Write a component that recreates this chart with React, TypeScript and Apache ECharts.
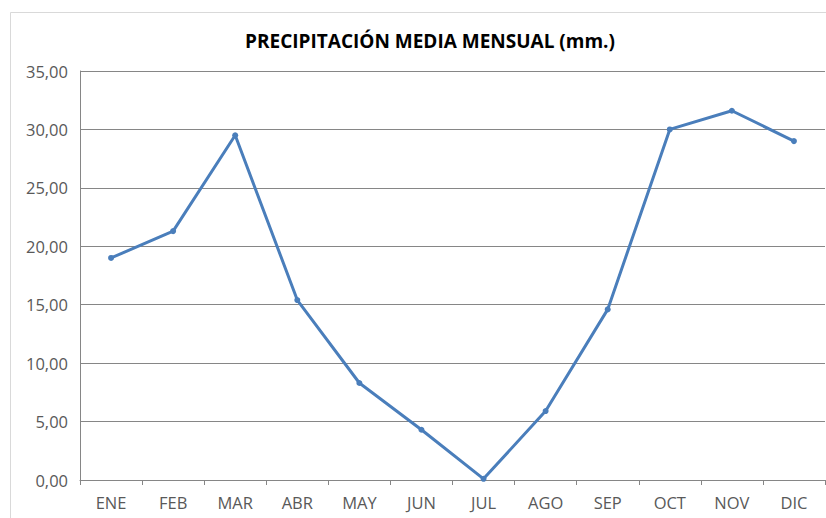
import React, { useEffect, useRef } from "react";
import * as echarts from "echarts";

const titleText = "PRECIPITACIÓN MEDIA MENSUAL (mm.)";
const months = ["ENE", "FEB", "MAR", "ABR", "MAY", "JUN", "JUL", "AGO", "SEP", "OCT", "NOV", "DIC"];
const precipitation = [19.0, 21.3, 29.5, 15.4, 8.3, 4.3, 0.1, 5.9, 14.6, 30.0, 31.6, 29.0];
const yMin = 0;
const yMax = 35;
const yStep = 5;

export default function App() {
  const ref = useRef<HTMLDivElement>(null);
  useEffect(() => {
    if (!ref.current) return;
    const chart = echarts.init(ref.current, undefined, { renderer: "svg" });
    const font = "'Open Sans', 'Liberation Sans', sans-serif";
    chart.setOption({
      animation: false,
      backgroundColor: "#ffffff",
      title: {
        text: titleText,
        left: 425,
        textAlign: "center",
        top: 26,
        textStyle: { fontFamily: font, fontSize: 19, fontWeight: "bold", color: "#000000" },
      },
      graphic: [
        {
          type: "rect",
          shape: { x: 10.5, y: 12.5, width: 840, height: 540 },
          style: { fill: "none", stroke: "#d9d9d9", lineWidth: 1 },
          silent: true,
        },
      ],
      grid: { left: 80, right: 1, top: 71, bottom: 38, containLabel: false },
      xAxis: {
        type: "category",
        data: months,
        boundaryGap: true,
        axisLine: { show: true, lineStyle: { color: "#868686", width: 1 } },
        axisTick: { show: true, length: 5, lineStyle: { color: "#868686" } },
        axisLabel: { fontFamily: font, fontSize: 16.5, color: "#595959", margin: 14 },
      },
      yAxis: {
        type: "value",
        min: yMin,
        max: yMax,
        interval: yStep,
        axisLine: { show: true, lineStyle: { color: "#868686", width: 1 } },
        axisTick: { show: false },
        splitLine: { show: true, lineStyle: { color: "#868686", width: 1 } },
        axisLabel: {
          fontFamily: font,
          fontSize: 16.5,
          color: "#595959",
          margin: 12,
          formatter: (v: number) => v.toFixed(2).replace(".", ","),
        },
      },
      series: [
        {
          type: "line",
          data: precipitation,
          symbol: "circle",
          symbolSize: 6,
          lineStyle: { color: "#4a7ebb", width: 3 },
          itemStyle: { color: "#4a7ebb" },
        },
      ],
    });
    return () => chart.dispose();
  }, []);
  return (
    <div
      ref={ref}
      style={{ position: "fixed", left: 0, top: 0, width: 826, height: 518, background: "#fff" }}
    />
  );
}
